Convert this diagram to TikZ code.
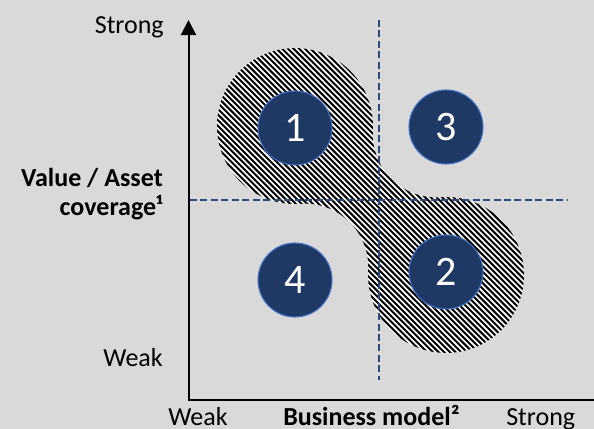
\documentclass[tikz,border=0pt]{standalone}
\usepackage{xcolor}
\usepackage{fontspec}
\usepackage{tikz}
\usetikzlibrary{arrows.meta}
\setmainfont{Carlito}

\definecolor{bggray}{HTML}{D9D9D9}
\definecolor{navy}{HTML}{203864}
\definecolor{rimblue}{HTML}{4472C4}
\definecolor{dashblue}{HTML}{2B4A80}

\tikzset{
  numcircle/.style={circle, fill=navy, draw=rimblue, line width=0.8pt,
    minimum size=55.5pt, inner sep=0pt, text=white,
    font=\fontsize{31.5}{32}\selectfont},
  axislabel/.style={inner sep=0pt, font=\fontsize{19.5}{23}\selectfont},
  axisline/.style={line width=1.5pt,
    {Triangle[length=11.25pt,width=11.25pt]}-{Triangle[length=11.25pt,width=11.25pt]}},
  splitline/.style={dashblue, line width=1.1pt, dash pattern=on 5.25pt off 2.6pt},
  hatchline/.style={black, line width=1.5pt}
}

\begin{document}
\begin{tikzpicture}[x=0.75pt, y=-0.75pt]
\useasboundingbox (0,0) rectangle (594,429);
\fill[bggray] (0,0) rectangle (594,429);

% hatched region joining 1 and 2
\begin{scope}
\clip (295,126) ++(85.92:78)
  arc[start angle=85.92, end angle=363.31, radius=78]
  arc[start angle=183.31, end angle=85.92, radius=63.2]
  arc[start angle=265.92, end angle=543.31, radius=78]
  arc[start angle=3.31, end angle=-94.08, radius=63.2] -- cycle;
\fill[white] (200,30) rectangle (540,370);
\foreach \c in {-140,-134.34,...,480}
  \draw[hatchline] (\c+40,40) -- (\c+370,370);
\end{scope}

% quadrant split
\coordinate (vt) at (379,20);
\coordinate (vb) at (379,380);
\coordinate (hl) at (190,200);
\coordinate (hr) at (567,200);
\draw[splitline] (vt) -- (vb);
\draw[splitline] (hl) -- (hr);

% axes
\coordinate (o) at (188.5,399.5);
\coordinate (yt) at (188.5,20);
\coordinate (xe) at (609,399.5);
\draw[axisline] (yt) -- (o) -- (xe);

\node[numcircle] (1) at (295,128) {1};
\node[numcircle] (2) at (446,272) {2};
\node[numcircle] (3) at (446,127) {3};
\node[numcircle] (4) at (295,280) {4};

\node[axislabel, anchor=base east] (ys) at (164,33) {Strong};
\node[axislabel, anchor=base east, font=\fontsize{19.5}{23}\selectfont\bfseries] (yn) at (163,186.7) {Value / Asset};
\node[axislabel, anchor=base east, font=\fontsize{19.5}{23}\selectfont\bfseries] (yn2) at (163,215) {coverage¹};
\node[axislabel, anchor=base east] (yw) at (163,366.7) {Weak};
\node[axislabel, anchor=base west] (xw) at (168,425.5) {Weak};
\node[axislabel, anchor=base west, font=\fontsize{19.5}{23}\selectfont\bfseries] (xn) at (283,425.5) {Business model²};
\node[axislabel, anchor=base west] (xs) at (506,425.5) {Strong};
\end{tikzpicture}
\end{document}
